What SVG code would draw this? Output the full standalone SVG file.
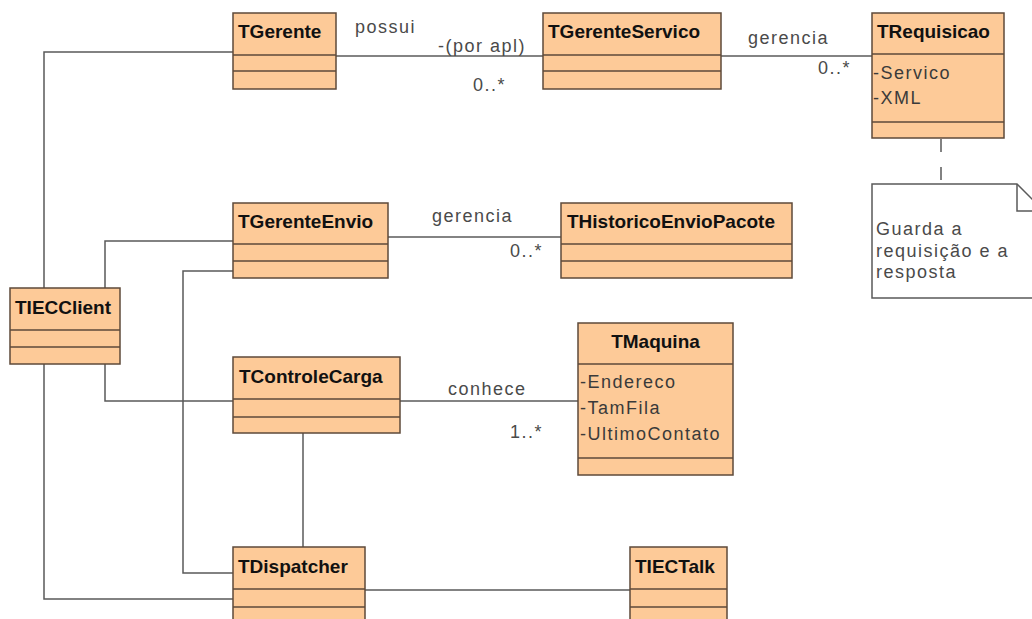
<svg xmlns="http://www.w3.org/2000/svg" width="1032" height="619" viewBox="0 0 1032 619">
  <style>
    .box { fill: #fdca98; stroke: #5e4a3a; stroke-width: 1.5; }
    .sep { stroke: #5e4a3a; stroke-width: 1.5; fill: none; }
    .title { font-family: "Liberation Sans", Arial, sans-serif; font-size: 19px; font-weight: bold; fill: #111; }
    .attr { font-family: "Liberation Sans", Arial, sans-serif; font-size: 18px; letter-spacing: 1.5px; fill: #3a3a3a; }
    .lbl { font-family: "Liberation Sans", Arial, sans-serif; font-size: 18px; letter-spacing: 1.5px; fill: #4a4a4a; }
    .conn { stroke: #5a5a5a; stroke-width: 1.5; fill: none; }
    .dash { stroke: #5a5a5a; stroke-width: 1.5; fill: none; stroke-dasharray: 13 15; }
    .note { fill: #ffffff; stroke: #5a5a5a; stroke-width: 1.5; }
  </style>
  <rect width="1032" height="619" fill="#ffffff"/>

  <!-- associations -->
  <g id="connectors">
    <polyline class="conn" points="44,288 44,52 233,52"/>
    <polyline class="conn" points="105,288 105,241 233,241"/>
    <polyline class="conn" points="105,364 105,401 233,401"/>
    <polyline class="conn" points="44,364 44,599 233,599"/>
    <polyline class="conn" points="233,271 183,271 183,573 233,573"/>
    <line class="conn" x1="303" y1="433" x2="303" y2="547"/>
    <line class="conn" x1="365" y1="590" x2="630" y2="590"/>
    <line class="conn" x1="336" y1="56" x2="543" y2="56"/>
    <line class="conn" x1="721" y1="56" x2="872" y2="56"/>
    <line class="conn" x1="388" y1="237" x2="561" y2="237"/>
    <line class="conn" x1="400" y1="401" x2="578" y2="401"/>
    <line class="dash" x1="941" y1="139" x2="941" y2="184"/>

    <text class="lbl" x="355" y="33">possui</text>
    <text class="lbl" x="438" y="52">-(por apl)</text>
    <text class="lbl" x="473" y="91">0..*</text>
    <text class="lbl" x="748" y="44">gerencia</text>
    <text class="lbl" x="818" y="74">0..*</text>
    <text class="lbl" x="432" y="222">gerencia</text>
    <text class="lbl" x="510" y="257">0..*</text>
    <text class="lbl" x="448" y="395">conhece</text>
    <text class="lbl" x="510" y="438">1..*</text>
  </g>

  <g id="TGerente">
    <rect class="box" x="233" y="13" width="103" height="76"/>
    <path class="sep" d="M233,55 H336 M233,71 H336"/>
    <text class="title" x="238" y="38">TGerente</text>
  </g>

  <g id="TGerenteServico">
    <rect class="box" x="543" y="13" width="178" height="76"/>
    <path class="sep" d="M543,55 H721 M543,71 H721"/>
    <text class="title" x="548" y="38">TGerenteServico</text>
  </g>

  <g id="TRequisicao">
    <rect class="box" x="872" y="13" width="132" height="125"/>
    <path class="sep" d="M872,54 H1004 M872,122 H1004"/>
    <text class="title" x="877" y="38">TRequisicao</text>
    <text class="attr" x="873" y="79">-Servico</text>
    <text class="attr" x="873" y="104">-XML</text>
  </g>

  <g id="NotaRequisicao">
    <path class="note" d="M872,184 H1017 L1044,211 V298 H872 Z"/>
    <path class="conn" d="M1017,184 V211 H1044"/>
    <text class="lbl" x="876" y="235">Guarda a</text>
    <text class="lbl" x="876" y="257">requisição e a</text>
    <text class="lbl" x="876" y="278">resposta</text>
  </g>

  <g id="TIECClient">
    <rect class="box" x="10" y="288" width="110" height="76"/>
    <path class="sep" d="M10,330 H120 M10,347 H120"/>
    <text class="title" x="15" y="314">TIECClient</text>
  </g>

  <g id="TGerenteEnvio">
    <rect class="box" x="233" y="203" width="155" height="75"/>
    <path class="sep" d="M233,244 H388 M233,261 H388"/>
    <text class="title" x="238" y="228">TGerenteEnvio</text>
  </g>

  <g id="THistoricoEnvioPacote">
    <rect class="box" x="561" y="203" width="231" height="75"/>
    <path class="sep" d="M561,244 H792 M561,261 H792"/>
    <text class="title" x="567" y="228">THistoricoEnvioPacote</text>
  </g>

  <g id="TControleCarga">
    <rect class="box" x="233" y="357" width="167" height="76"/>
    <path class="sep" d="M233,399 H400 M233,417 H400"/>
    <text class="title" x="239" y="383">TControleCarga</text>
  </g>

  <g id="TMaquina">
    <rect class="box" x="578" y="323" width="155" height="152"/>
    <path class="sep" d="M578,364 H733 M578,458 H733"/>
    <text class="title" x="655.5" y="348" text-anchor="middle">TMaquina</text>
    <text class="attr" x="580" y="388">-Endereco</text>
    <text class="attr" x="580" y="414">-TamFila</text>
    <text class="attr" x="580" y="440">-UltimoContato</text>
  </g>

  <g id="TDispatcher">
    <rect class="box" x="233" y="547" width="132" height="95"/>
    <path class="sep" d="M233,589 H365 M233,607 H365"/>
    <text class="title" x="238" y="573">TDispatcher</text>
  </g>

  <g id="TIECTalk">
    <rect class="box" x="630" y="547" width="97" height="95"/>
    <path class="sep" d="M630,589 H727 M630,607 H727"/>
    <text class="title" x="635" y="573">TIECTalk</text>
  </g>
</svg>
